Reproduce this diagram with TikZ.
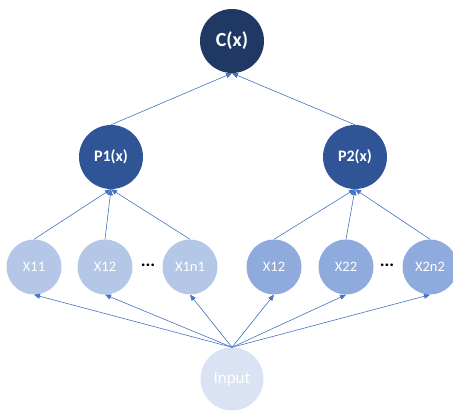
\documentclass[tikz,border=0pt]{standalone}
\usepackage{fontspec}
\setmainfont{Carlito}
\usepackage{tikz}
\usetikzlibrary{arrows.meta}
\usepackage{xcolor}
\definecolor{topblue}{RGB}{31,56,100}
\definecolor{midblue}{RGB}{47,85,151}
\definecolor{leftblue}{RGB}{180,199,231}
\definecolor{rightblue}{RGB}{143,170,220}
\definecolor{inblue}{RGB}{218,227,243}
\definecolor{linkblue}{RGB}{68,114,196}

\begin{document}
\begin{tikzpicture}[x=1pt, y=-1pt, >={Triangle[length=6pt,width=5pt]},
        unit/.style={circle, inner sep=0pt, text=white},
        link/.style={draw=linkblue, line width=0.6pt, ->}]
        \useasboundingbox (0,0) rectangle (453,411);

        % Draw the output node
        \node[unit, fill=topblue, minimum size=64pt, font=\fontsize{20}{22}\selectfont\bfseries] (c) at (232,41) {C(x)};

        % Draw the two product nodes
        \node[unit, fill=midblue, minimum size=64pt, font=\fontsize{16}{18}\selectfont\bfseries] (p1) at (111,157) {P1(x)};
        \node[unit, fill=midblue, minimum size=64pt, font=\fontsize{16}{18}\selectfont\bfseries] (p2) at (355,157) {P2(x)};

        % Draw the first group of inputs
        \node[unit, fill=leftblue, minimum size=55pt, font=\fontsize{14.5}{16}\selectfont] (x11) at (34,267) {X11};
        \node[unit, fill=leftblue, minimum size=55pt, font=\fontsize{14.5}{16}\selectfont] (x12) at (105,267) {X12};
        \node[font=\fontsize{18}{20}\selectfont\bfseries] (dots1) at (148,265) {...};
        \node[unit, fill=leftblue, minimum size=55pt, font=\fontsize{14.5}{16}\selectfont] (x1n1) at (190,267) {X1n1};

        % Draw the second group of inputs
        \node[unit, fill=rightblue, minimum size=55pt, font=\fontsize{14.5}{16}\selectfont] (x21) at (274,267) {X12};
        \node[unit, fill=rightblue, minimum size=55pt, font=\fontsize{14.5}{16}\selectfont] (x22) at (346,267) {X22};
        \node[font=\fontsize{18}{20}\selectfont\bfseries] (dots2) at (387,265) {...};
        \node[unit, fill=rightblue, minimum size=55pt, font=\fontsize{14.5}{16}\selectfont] (x2n2) at (430,267) {X2n2};

        % Draw the input node
        \node[unit, fill=inblue, minimum size=63pt, font=\fontsize{17}{19}\selectfont] (in) at (232,379) {Input};

        % Connect the input to the first layer
        \draw[link] (in.north) -- (x11.south);
        \draw[link] (in.north) -- (x12.south);
        \draw[link] (in.north) -- (x1n1.south);
        \draw[link] (in.north) -- (x21.south);
        \draw[link] (in.north) -- (x22.south);
        \draw[link] (in.north) -- (x2n2.south);

        % Connect the first layer to the products
        \draw[link] (x11.north) -- (p1.south);
        \draw[link] (x12.north) -- (p1.south);
        \draw[link] (x1n1.north) -- (p1.south);
        \draw[link] (x21.north) -- (p2.south);
        \draw[link] (x22.north) -- (p2.south);
        \draw[link] (x2n2.north) -- (p2.south);

        % Connect the products to the output
        \draw[link] (p1.north) -- (c.south);
        \draw[link] (p2.north) -- (c.south);
    \end{tikzpicture}
\end{document}
